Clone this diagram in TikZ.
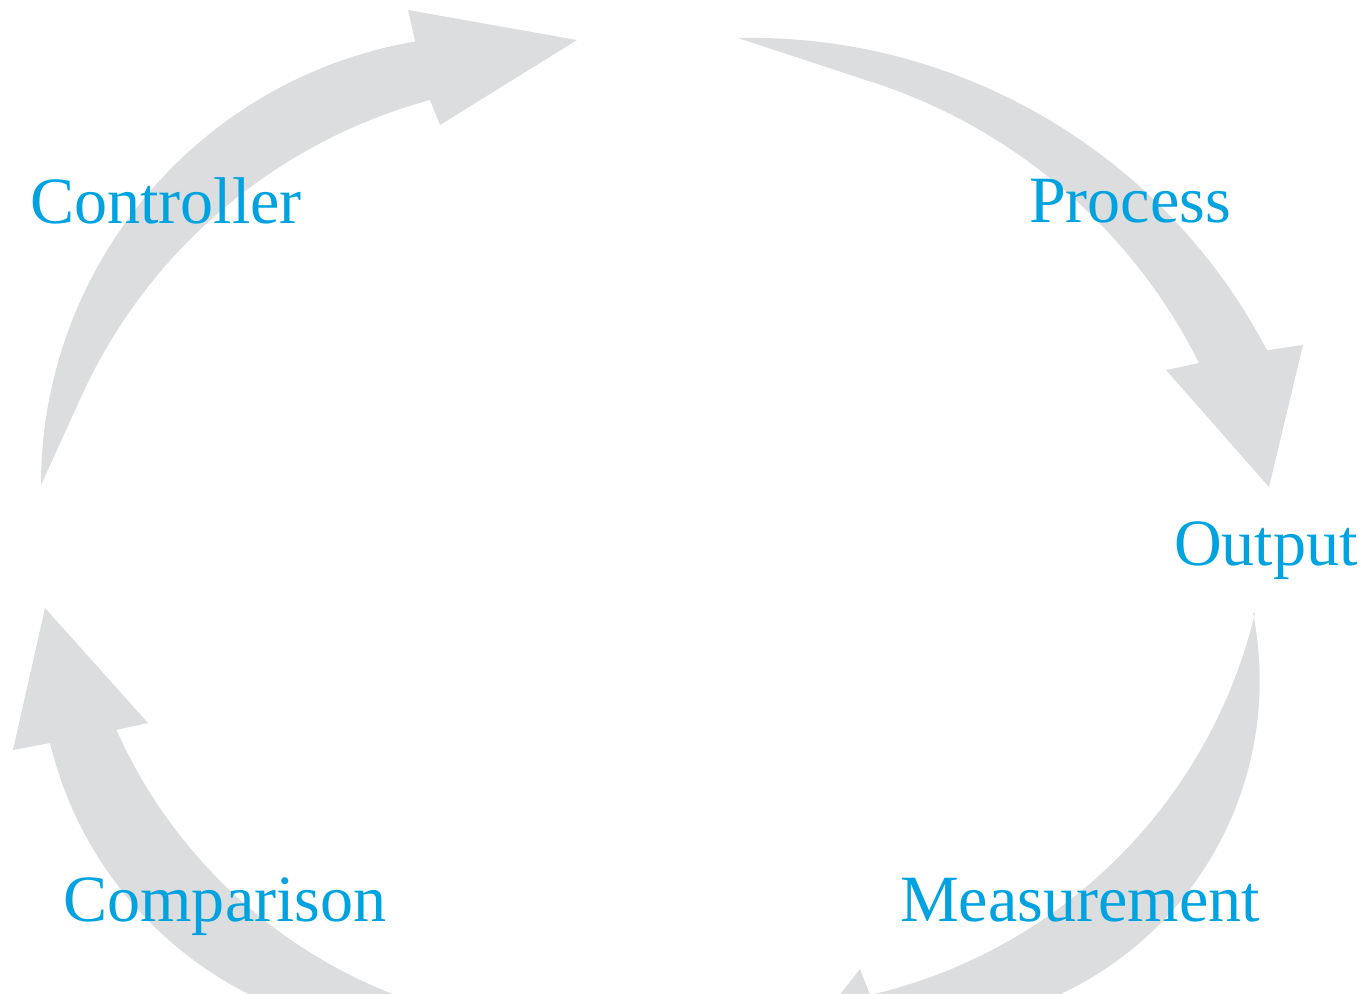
\documentclass[tikz,border=0pt]{standalone}
\usepackage{fontspec}
\setmainfont{Liberation Serif}
\definecolor{arrowgray}{RGB}{220,221,222}
\definecolor{labelblue}{RGB}{0,163,224}

\begin{document}
\begin{tikzpicture}[x=0.01cm,y=-0.01cm,
  lbl/.style={anchor=base,inner sep=0pt,text=labelblue,font=\fontsize{18.8}{22}\selectfont}]
\useasboundingbox (0,0) rectangle (1366,993);
\clip (0,0) rectangle (1366,993);

% controller -> process
\fill[color=arrowgray] (41,485) arc[start angle=180,end angle=260.3,radius=450]
  -- (408,10) -- (577,40) -- (440,125) -- (430,100)
  arc[start angle=254.8,end angle=204.4,radius=538] -- cycle;
% process -> output
\fill[color=arrowgray] (738,38) arc[start angle=268.7,end angle=332.4,radius=582]
  -- (1303,345) -- (1269,487) -- (1166,370) -- (1199,363)
  arc[start angle=333.4,end angle=287.3,radius=558] -- cycle;
% output -> measurement
\fill[color=arrowgray] (1253,613) arc[start angle=-11.3,end angle=80,radius=346]
  -- (884,1054) -- (891,1085) -- (762,1095) -- (860,969) -- (870,995)
  arc[start angle=77,end angle=13.5,radius=515] -- cycle;
% comparison -> controller
\fill[color=arrowgray] (50,743) arc[start angle=166.5,end angle=100,radius=381]
  -- (560,1045) -- (533,1027) arc[start angle=95,end angle=156,radius=504]
  -- (148,723) -- (45,608) -- (13,750) -- cycle;

\node[lbl] (controller) at (166,223) {Controller};
\node[lbl] (process) at (1130,222) {Process};
\node[lbl] (output) at (1266,565) {Output};
\node[lbl] (measurement) at (1080,921) {Measurement};
\node[lbl] (comparison) at (225,921) {Comparison};

\end{tikzpicture}
\end{document}
